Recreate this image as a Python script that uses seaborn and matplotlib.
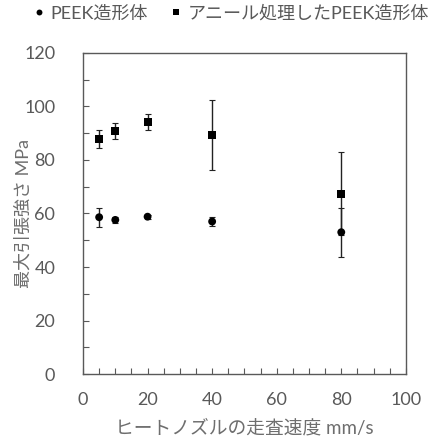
import matplotlib.pyplot as plt
import seaborn as sns
import pandas as pd
from matplotlib.ticker import MultipleLocator

speed = [5, 10, 20, 40, 80]
peek_mean = [58.6, 57.6, 58.8, 57.0, 53.0]
peek_err = [3.6, 1.2, 0.8, 1.5, 9.2]
anneal_mean = [87.9, 90.7, 94.1, 89.3, 67.4]
anneal_err = [3.4, 3.0, 3.1, 13.0, 15.4]
labels = ['PEEK造形体', 'アニール処理したPEEK造形体']

df = pd.DataFrame({
    'speed': speed * 2,
    'strength': peek_mean + anneal_mean,
    'err': peek_err + anneal_err,
    'group': [labels[0]] * len(speed) + [labels[1]] * len(speed),
})

sns.set_style('white')
plt.rcParams['font.family'] = ['Lato', 'Noto Sans CJK JP', 'DejaVu Sans']
gray = '#595959'
lgray = '#6e6e6e'

fig = plt.figure(figsize=(4.29, 4.37), dpi=100)
ax = fig.add_axes([0.1935, 0.144, 0.7525, 0.735])

for g in labels:
    d = df[df['group'] == g]
    ax.errorbar(d['speed'], d['strength'], yerr=d['err'], fmt='none',
                ecolor='#222222', elinewidth=1.0, capsize=2, capthick=0.8, zorder=2)

sns.scatterplot(data=df, x='speed', y='strength', hue='group', style='group',
                markers={labels[0]: 'o', labels[1]: 's'},
                palette={labels[0]: 'black', labels[1]: 'black'},
                s=32, edgecolor='black', linewidth=0, ax=ax, zorder=3)
h, l = ax.get_legend_handles_labels()
ax.get_legend().remove()

ax.set_xlim(0, 100)
ax.set_ylim(0, 120)
ax.xaxis.set_major_locator(MultipleLocator(20))
ax.xaxis.set_minor_locator(MultipleLocator(5))
ax.yaxis.set_major_locator(MultipleLocator(20))
ax.yaxis.set_minor_locator(MultipleLocator(10))
ax.tick_params(axis='both', which='both', direction='in', length=4, width=0.8,
               colors=gray, labelsize=13, bottom=True, left=True)
ax.tick_params(axis='x', which='both', pad=13)
ax.tick_params(axis='y', which='both', pad=20)
for sp in ax.spines.values():
    sp.set_color(gray)
    sp.set_linewidth(1.0)

ax.set_xlabel('ヒートノズルの走査速度 mm/s', fontsize=13.5, color=lgray, va='center')
ax.set_ylabel('最大引張強さ MPa', fontsize=13, color=lgray, va='center')
ax.xaxis.set_label_coords(0.5, -0.166)
ax.yaxis.set_label_coords(-0.186, 0.5)

fig.legend(h, l, loc='upper left', bbox_to_anchor=(0.053, 1.005), ncol=2,
           frameon=False, fontsize=13, labelcolor=gray, handletextpad=0.15,
           handlelength=1.0, columnspacing=1.05, markerscale=0.75, borderaxespad=0)

fig.savefig('out.png', dpi=100)
